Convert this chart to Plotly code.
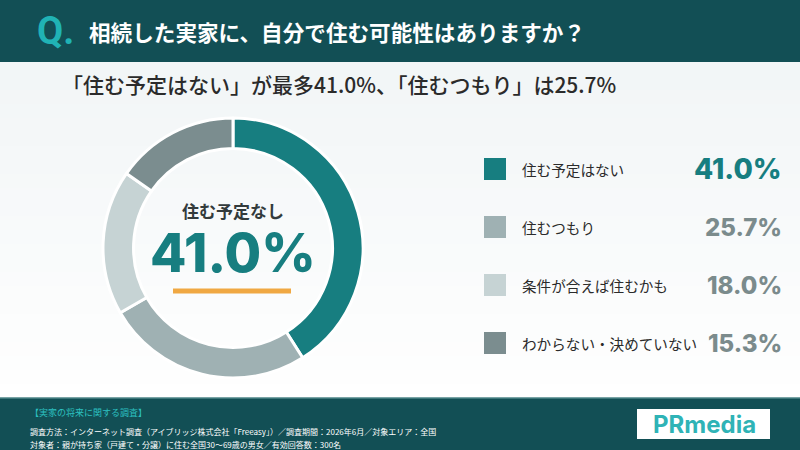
import plotly.graph_objects as go

# data
labels = ["住む予定はない", "住むつもり", "条件が合えば住むかも", "わからない・決めていない"]
values = [41.0, 25.7, 18.0, 15.3]
colors = ["#177e80", "#9fb1b3", "#c6d3d4", "#7b8d8f"]
value_colors = ["#177e80", "#7b8b8c", "#7b8b8c", "#7b8b8c"]

title = "相続した実家に、自分で住む可能性はありますか？"
subtitle = "「住む予定はない」が最多41.0%、「住むつもり」は25.7%"
center_label = "住む予定なし"
footer_head = "【実家の将来に関する調査】"
footer_lines = [
    "調査方法：インターネット調査（アイブリッジ株式会社「Freeasy」）／調査期間：2026年6月／対象エリア：全国",
    "対象者：親が持ち家（戸建て・分譲）に住む全国30〜69歳の男女／有効回答数：300名",
]

W, H = 800, 450
JP = "Noto Sans CJK JP"
DARK = "#124f55"


def px(x):
    return x / W


def py(y):
    return 1 - y / H


fig = go.Figure()

fig.add_trace(go.Pie(
    values=values,
    labels=labels,
    sort=False,
    direction="clockwise",
    rotation=0,
    hole=0.765,
    marker=dict(colors=colors, line=dict(color="#ffffff", width=3)),
    textinfo="none",
    hoverinfo="label+percent",
    showlegend=False,
    domain=dict(x=[px(103), px(363)], y=[py(378), py(118)]),
))

shapes = []
# soft background gradient between header and footer
steps = 24
top, bottom = 62, 398
for i in range(steps):
    t = i / (steps - 1)
    r = int(0xf2 + (0xff - 0xf2) * t)
    g = int(0xf6 + (0xff - 0xf6) * t)
    b = int(0xf7 + (0xff - 0xf7) * t)
    y0 = top + (bottom - top) * i / steps
    y1 = top + (bottom - top) * (i + 1) / steps
    shapes.append(dict(type="rect", xref="paper", yref="paper", layer="below",
                       x0=0, x1=1, y0=py(y1), y1=py(y0),
                       fillcolor=f"rgb({r},{g},{b})", line=dict(width=0)))

# header and footer bands
shapes.append(dict(type="rect", xref="paper", yref="paper", layer="below",
                   x0=0, x1=1, y0=py(62), y1=1, fillcolor=DARK, line=dict(width=0)))
shapes.append(dict(type="rect", xref="paper", yref="paper", layer="below",
                   x0=0, x1=1, y0=0, y1=py(398), fillcolor=DARK, line=dict(width=0)))
shapes.append(dict(type="line", xref="paper", yref="paper", layer="below",
                   x0=0, x1=1, y0=py(398), y1=py(398), line=dict(color="#4d8487", width=1.5)))

# orange underline in the donut
shapes.append(dict(type="line", xref="paper", yref="paper",
                   x0=px(173), x1=px(291), y0=py(291), y1=py(291),
                   line=dict(color="#f0a843", width=5)))

# logo box
shapes.append(dict(type="rect", xref="paper", yref="paper",
                   x0=px(637), x1=px(770), y0=py(439), y1=py(409),
                   fillcolor="#ffffff", line=dict(width=0)))

annotations = [
    dict(text="<b>Q.</b>", x=px(35), y=py(31), xanchor="left", yanchor="middle",
         font=dict(family="Roboto", size=38, color="#20b3b5")),
    dict(text="<b>" + title + "</b>", x=px(87), y=py(31), xanchor="left", yanchor="middle",
         font=dict(family=JP, size=21.6, color="#ffffff")),
    dict(text=subtitle, x=px(60), y=py(84), xanchor="left", yanchor="middle",
         font=dict(family=JP, size=21, color="#2b2b2b", weight=500)),
    dict(text="<b>" + center_label + "</b>", x=px(233), y=py(210), xanchor="center", yanchor="middle",
         font=dict(family=JP, size=17, color="#333b3c")),
    dict(text="%.1f%%" % values[0], x=px(233), y=py(253), xanchor="center", yanchor="middle",
         font=dict(family="Inter", size=53, color=colors[0], weight=800)),
    dict(text=footer_head, x=px(28), y=py(412), xanchor="left", yanchor="middle",
         font=dict(family=JP, size=9, color="#2cc0c0")),
    dict(text="PRmedia", x=px(704), y=py(424), xanchor="center", yanchor="middle",
         font=dict(family="Inter", size=24, color="#2fb3b6", weight=700)),
]
for i, line in enumerate(footer_lines):
    annotations.append(dict(text=line, x=px(28), y=py(431 + 13 * i), xanchor="left", yanchor="middle",
                            font=dict(family=JP, size=8, color="#ffffff")))

# legend rows on the right
row_y0, row_step = 169, 58
for i, (lab, val) in enumerate(zip(labels, values)):
    yc = row_y0 + row_step * i
    shapes.append(dict(type="rect", xref="paper", yref="paper",
                       x0=px(484), x1=px(506), y0=py(yc + 11), y1=py(yc - 11),
                       fillcolor=colors[i], line=dict(width=0)))
    annotations.append(dict(text=lab, x=px(520), y=py(yc), xanchor="left", yanchor="middle",
                            font=dict(family=JP, size=14.6, color="#2b2b2b")))
    annotations.append(dict(text="%.1f%%" % val, x=px(784), y=py(yc), xanchor="right", yanchor="middle",
                            font=dict(family="Inter", size=28 if i == 0 else 24,
                                      color=value_colors[i], weight=800)))

for a in annotations:
    a.update(xref="paper", yref="paper", showarrow=False)

fig.update_layout(
    width=W, height=H,
    margin=dict(l=0, r=0, t=0, b=0),
    paper_bgcolor="#ffffff",
    plot_bgcolor="#ffffff",
    shapes=shapes,
    annotations=annotations,
)

fig.write_html("out.html", config={"displayModeBar": False},
               post_script="document.body.style.margin='0';")
